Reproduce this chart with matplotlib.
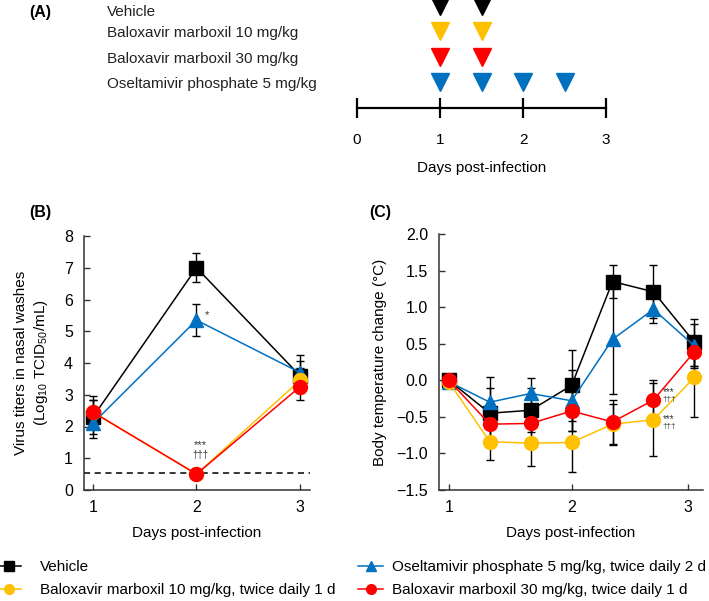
import matplotlib
matplotlib.use("Agg")
import matplotlib.pyplot as plt
import numpy as np

plt.rcParams['font.family'] = ['Liberation Sans', 'DejaVu Sans']
plt.rcParams['mathtext.default'] = 'regular'
plt.rcParams['font.size'] = 11

# ---- data ----
groups = ["Vehicle",
          "Baloxavir marboxil 10 mg/kg",
          "Baloxavir marboxil 30 mg/kg",
          "Oseltamivir phosphate 5 mg/kg"]
dose_days = [[1, 1.5], [1, 1.5], [1, 1.5], [1, 1.5, 2, 2.5]]
group_colors = ["#000000", "#FFC000", "#FF0000", "#0070C0"]

legend_labels = ["Vehicle",
                 "Baloxavir marboxil 10 mg/kg, twice daily 1 d",
                 "Baloxavir marboxil 30 mg/kg, twice daily 1 d",
                 "Oseltamivir phosphate 5 mg/kg, twice daily 2 d"]
markers = ["s", "o", "o", "^"]

# (B) virus titers
titer_days = [1, 2, 3]
titer_mean = [[2.3, 7.0, 3.6],
              [2.45, 0.5, 3.45],
              [2.45, 0.5, 3.25],
              [2.1, 5.35, 3.7]]
titer_err = [[0.65, 0.45, 0.45],
             [0.4, 0.0, 0.4],
             [0.4, 0.0, 0.42],
             [0.35, 0.5, 0.55]]
detection_limit = 0.55

# (C) body temperature change
temp_days = [1, 4 / 3, 5 / 3, 2, 7 / 3, 8 / 3, 3]
temp_mean = [[0.0, -0.45, -0.41, -0.07, 1.35, 1.21, 0.52],
             [-0.02, -0.84, -0.86, -0.85, -0.6, -0.54, 0.04],
             [0.0, -0.6, -0.59, -0.42, -0.57, -0.27, 0.39],
             [-0.02, -0.3, -0.18, -0.28, 0.56, 0.97, 0.47]]
temp_err = [[0.0, 0.35, 0.3, 0.48, 0.23, 0.36, 0.32],
            [0.0, 0.25, 0.31, 0.4, 0.28, 0.5, 0.54],
            [0.0, 0.2, 0.2, 0.28, 0.3, 0.27, 0.2],
            [0.0, 0.35, 0.21, 0.42, 0.75, 0.19, 0.3]]

# drawing order: vehicle, oseltamivir, baloxavir 10, baloxavir 30
order = [0, 3, 1, 2]

W, H = 709, 601
fig = plt.figure(figsize=(W / 100, H / 100), dpi=100)


def fx(px):
    return px / W


def fy(px):
    return 1 - px / H


# ---- (A) dosing schedule ----
ax_a = fig.add_axes([fx(357), fy(108), fx(606) - fx(357), fy(0) - fy(108)])
ax_a.set_xlim(0, 3)
ax_a.set_ylim(4.03, -0.237)
for s in ["top", "left", "right"]:
    ax_a.spines[s].set_visible(False)
ax_a.spines["bottom"].set_linewidth(1.6)
ax_a.set_yticks([])
ax_a.set_xticks([0, 1, 2, 3])
ax_a.tick_params(axis="x", direction="inout", length=14.5, width=1.6, pad=10.5,
                 labelsize=11)
ax_a.set_xlabel("Days post-infection", fontsize=11, labelpad=10)
for i, (name, days, c) in enumerate(zip(groups, dose_days, group_colors)):
    ax_a.plot(days, [i] * len(days), linestyle="none", marker="v",
              markersize=13, color=c, clip_on=False)
    ax_a.text(-3.01, i + (0.22 if i == 0 else 0.08), name, ha="left",
              va="center", fontsize=11, color="#222222")
fig.text(fx(40), fy(13), "(A)", fontsize=11.5, fontweight="bold",
         ha="center", va="center")


def style_axes(ax):
    ax.spines["top"].set_visible(False)
    ax.spines["right"].set_visible(False)
    for s in ["left", "bottom"]:
        ax.spines[s].set_linewidth(1.1)
        ax.spines[s].set_color("#333333")
    ax.tick_params(direction="in", length=4, width=1.0, labelsize=11.5,
                   color="#333333")
    ax.tick_params(axis="x", pad=7)
    ax.tick_params(axis="y", pad=8)


# ---- (B) virus titers ----
ax_b = fig.add_axes([fx(84), fy(490), fx(310) - fx(84), fy(236) - fy(490)])
style_axes(ax_b)
ax_b.set_xlim(0.913, 3.097)
ax_b.set_ylim(0, 8)
ax_b.set_yticks(range(0, 9))
ax_b.set_xticks([1, 2, 3])
ax_b.axhline(detection_limit, color="black", linestyle=(0, (4, 3)),
             linewidth=1.1, zorder=1)
for k in order:
    ax_b.errorbar(titer_days, titer_mean[k], yerr=titer_err[k], fmt="none",
                  ecolor="black", elinewidth=1.0, capsize=3, capthick=1.0,
                  zorder=2)
for k in order:
    ax_b.plot(titer_days, titer_mean[k], color=group_colors[k], linewidth=1.1,
              marker=markers[k], markersize=10 if markers[k] != "s" else 9.5,
              zorder=3)
ax_b.set_xlabel("Days post-infection", fontsize=11, labelpad=8)
ax_b.set_ylabel("Virus titers in nasal washes\n(Log$_{10}$ TCID$_{50}$/mL)",
                fontsize=11, labelpad=10, linespacing=1.3)
ax_b.annotate("*", xy=(2, 5.35), xytext=(6, 0), textcoords="offset points",
              fontsize=8, color="#333333", ha="left", va="bottom")
ax_b.annotate("***", xy=(2, 0.5), xytext=(3, 21), textcoords="offset points",
              fontsize=8, color="#333333", ha="center", va="center")
ax_b.annotate("\u2020\u2020\u2020", xy=(2, 0.5), xytext=(3, 14),
              textcoords="offset points", fontsize=7, color="#333333",
              ha="center", va="center")
fig.text(fx(40), fy(213), "(B)", fontsize=11.5, fontweight="bold",
         ha="center", va="center")

# ---- (C) body temperature ----
ax_c = fig.add_axes([fx(439), fy(490), fx(703) - fx(439), fy(234) - fy(490)])
style_axes(ax_c)
ax_c.set_xlim(0.92, 3.07)
ax_c.set_ylim(-1.5, 2.0)
ax_c.set_yticks(np.arange(-1.5, 2.01, 0.5))
ax_c.set_xticks([1, 2, 2.95])
ax_c.set_xticklabels(["1", "2", "3"])
for k in order:
    ax_c.errorbar(temp_days, temp_mean[k], yerr=temp_err[k], fmt="none",
                  ecolor="black", elinewidth=1.0, capsize=3, capthick=1.0,
                  zorder=2)
for k in order:
    ax_c.plot(temp_days, temp_mean[k], color=group_colors[k], linewidth=1.1,
              marker=markers[k], markersize=10 if markers[k] != "s" else 9.5,
              zorder=3)
ax_c.set_xlabel("Days post-infection", fontsize=11, labelpad=8)
ax_c.set_ylabel("Body temperature change (\u00b0C)", fontsize=11, labelpad=7)
# significance marks next to day-2.67 points (red, yellow)
for k, (dy_star, dy_dag) in [(2, (6.0, 0.5)), (1, (0.7, -4.5))]:
    pt = (temp_days[5], temp_mean[k][5])
    ax_c.annotate("***", xy=pt, xytext=(6.5, dy_star),
                  textcoords="offset points", fontsize=7, color="#333333",
                  ha="left", va="center")
    ax_c.annotate("\u2020\u2020\u2020", xy=pt, xytext=(6.5, dy_dag),
                  textcoords="offset points", fontsize=6, color="#333333",
                  ha="left", va="center")
fig.text(fx(380), fy(213), "(C)", fontsize=11.5, fontweight="bold",
         ha="center", va="center")

# ---- legend (two columns placed separately) ----
handles = []
for k in range(4):
    h, = ax_b.plot([], [], color=group_colors[k], linewidth=1.1,
                   marker=markers[k], markersize=7)
    handles.append(h)
fig.legend([handles[0], handles[1]],
           [legend_labels[0], legend_labels[1]],
           loc="upper left", bbox_to_anchor=(fx(-4), fy(560)),
           frameon=False, fontsize=11, handlelength=1.65,
           handletextpad=1.2, labelspacing=0.62, borderaxespad=0,
           borderpad=0)
fig.legend([handles[3], handles[2]],
           [legend_labels[3], legend_labels[2]],
           loc="upper left", bbox_to_anchor=(fx(358), fy(560)),
           frameon=False, fontsize=11, handlelength=1.65,
           handletextpad=0.55, labelspacing=0.62, borderaxespad=0,
           borderpad=0)

fig.savefig("out.png", dpi=100)
